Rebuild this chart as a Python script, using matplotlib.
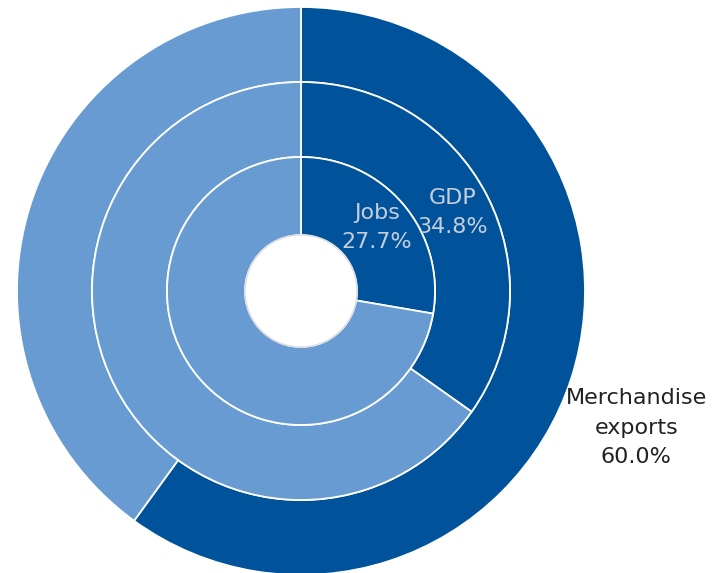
import matplotlib.pyplot as plt
import numpy as np

# ring data, outermost first
ring_names = ["Merchandise\nexports", "GDP", "Jobs"]
ring_shares = [60.0, 34.8, 27.7]
label_colors = ["#222222", "#c5cedb", "#c5cedb"]

dark_blue = "#00529b"
light_blue = "#689bd2"

W, H = 722, 573
cx, cy = 301, H - 291
ring_outer = [284, 209, 134]
ring_width = [75, 75, 78]

fig = plt.figure(figsize=(W / 100, H / 100), dpi=100)
ax = fig.add_axes([0, 0, 1, 1])

for share, r, w in zip(ring_shares, ring_outer, ring_width):
    ax.pie([share, 100 - share], radius=r, center=(cx, cy),
           colors=[dark_blue, light_blue], startangle=90, counterclock=False,
           wedgeprops=dict(width=w, edgecolor="white", linewidth=1.3))

# thin grey rim around the hole
hole = plt.Circle((cx, cy), ring_outer[2] - ring_width[2], facecolor="white",
                  edgecolor="#dddddd", linewidth=1.0, zorder=5)
ax.add_patch(hole)

# labels sit at the middle angle of each dark wedge
label_radius = [362, 171, 99]
for name, share, r, col in zip(ring_names, ring_shares, label_radius, label_colors):
    ang = np.deg2rad(90 - share / 100 * 360 / 2)
    if name.startswith("Merch"):
        ang = np.deg2rad(-22.2)
    x = cx + r * np.cos(ang)
    y = cy + r * np.sin(ang)
    ax.text(x, y, f"{name}\n{share:.1f}%", ha="center", va="center",
            fontsize=16, color=col, linespacing=1.58, zorder=6)

ax.set_xlim(0, W)
ax.set_ylim(0, H)
ax.set_aspect("equal")
ax.axis("off")

fig.savefig("out.png", dpi=100, facecolor="white")
